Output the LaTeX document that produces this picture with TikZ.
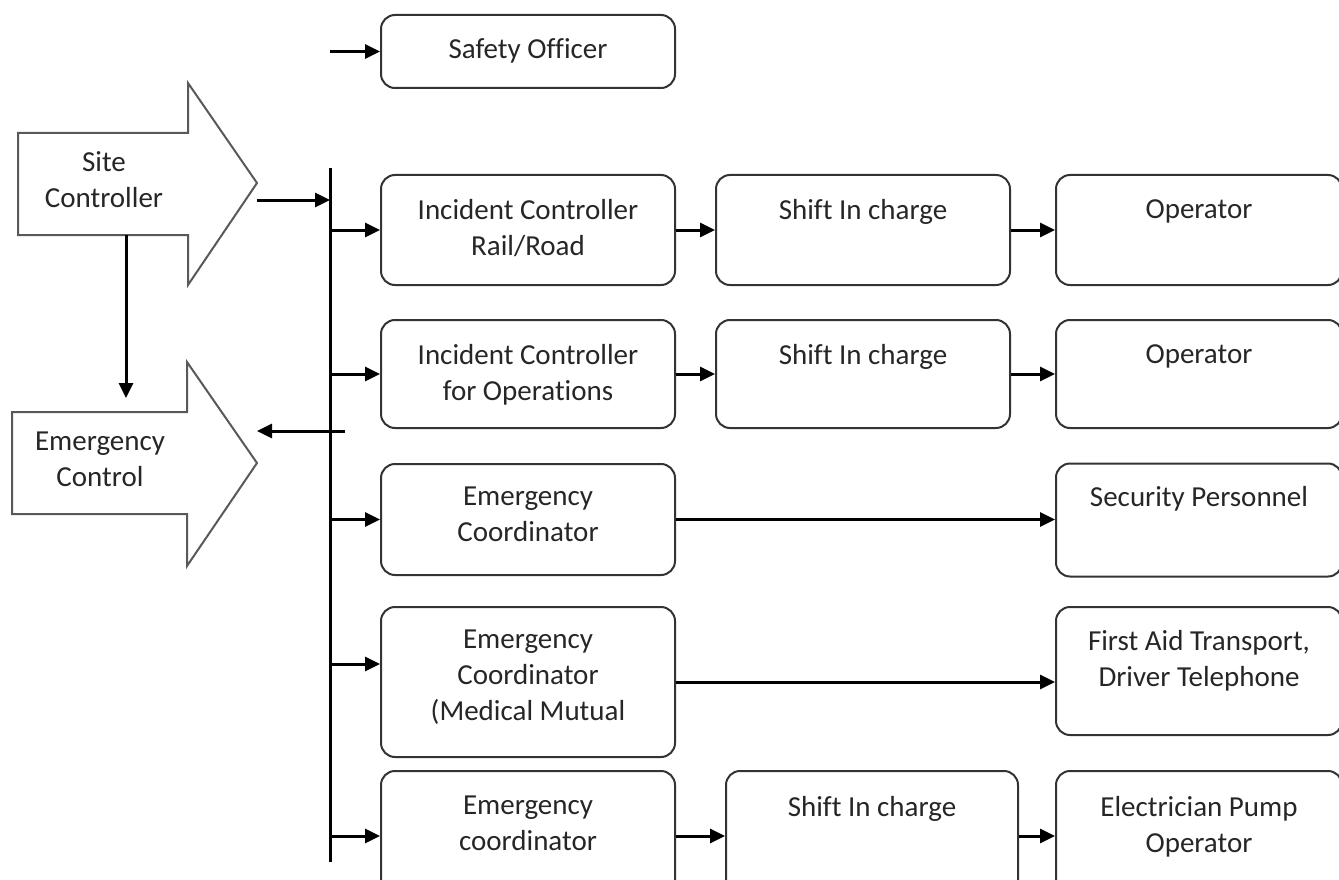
\documentclass[tikz,border=0pt]{standalone}
\usepackage{fontspec}
\setmainfont{Carlito}[Ligatures=NoCommon]
\usetikzlibrary{arrows.meta, positioning}

\begin{document}
\begin{tikzpicture}[
    x=1pt, y=-1pt,
    unit/.style={draw=black!80, line width=2pt, rounded corners=14pt, minimum width=294pt, minimum height=110pt},
    wide/.style={unit, minimum width=286pt},
    caption/.style={font=\fontsize{29}{36}\selectfont, text=black!85, align=center, inner sep=0pt},
    block/.style={draw=black!65, line width=2pt, fill=white, line join=miter},
    link/.style={line width=3pt, -{Triangle[length=15pt, width=14pt]}},
    bus/.style={line width=3pt}
]
\useasboundingbox (0,0) rectangle (1339,880);
\clip (0,0) rectangle (1339,880);

% Block arrows on the left
\draw[block] (18,133) -- (188,133) -- (188,83) -- (257,183) -- (188,285) -- (188,235) -- (18,235) -- cycle;
\node[caption] (site) at (104,180) {Site\\Controller};
\draw[block] (12,412) -- (187,412) -- (187,362) -- (257,463) -- (187,566) -- (187,514) -- (12,514) -- cycle;
\node[caption] (emerg) at (100,459) {Emergency\\Control};

\coordinate (sitetip) at (257,183);
\coordinate (sitebase) at (126,235);
\coordinate (emergtip) at (257,463);
\coordinate (emergtop) at (126,398);

% Vertical bus
\coordinate (bustop) at (330,168);
\coordinate (busend) at (330,862);
\coordinate (busret) at (345,431);

% Boxes
\node[unit, minimum height=73pt] (safety) at (528,51.5) {};
\node[unit] (icrail) at (528,230) {};
\node[unit] (shiftA) at (863,230) {};
\node[wide] (opA) at (1199,230) {};
\node[unit, minimum height=108pt] (icops) at (528,374) {};
\node[unit, minimum height=108pt] (shiftB) at (863,374) {};
\node[wide, minimum height=108pt] (opB) at (1199,374) {};
\node[unit, minimum height=111pt] (coord) at (528,519.5) {};
\node[wide, minimum height=113pt] (security) at (1199,520) {};
\node[unit, minimum height=150pt] (medical) at (528,682) {};
\node[wide, minimum height=128pt] (firstaid) at (1199,671) {};
\node[unit, minimum height=130pt] (elcoord) at (528,836) {};
\node[unit, minimum width=292pt, minimum height=130pt] (shiftC) at (872,836) {};
\node[wide, minimum height=130pt] (pumpop) at (1199,836) {};

% Box texts
\node[caption, below=24pt of safety.north] (safetyt) {Safety Officer};
\node[caption, below=25pt of icrail.north] (icrailt) {Incident Controller\\Rail/Road};
\node[caption, below=25pt of shiftA.north] (shiftAt) {Shift In charge};
\node[caption, below=25pt of opA.north] (opAt) {Operator};
\node[caption, below=25pt of icops.north] (icopst) {Incident Controller\\for Operations};
\node[caption, below=25pt of shiftB.north] (shiftBt) {Shift In charge};
\node[caption, below=25pt of opB.north] (opBt) {Operator};
\node[caption, below=24pt of coord.north] (coordt) {Emergency\\Coordinator};
\node[caption, below=24pt of security.north] (securityt) {Security Personnel};
\node[caption, below=24pt of medical.north] (medicalt) {Emergency\\Coordinator\\(Medical Mutual};
\node[caption, below=24pt of firstaid.north] (firstaidt) {First Aid Transport,\\Driver Telephone};
\node[caption, below=26pt of elcoord.north] (elcoordt) {Emergency\\coordinator};
\node[caption, below=26pt of shiftC.north] (shiftCt) {Shift In charge};
\node[caption, below=26pt of pumpop.north] (pumpopt) {Electrician Pump\\Operator};

% Connectors
\draw[link] (sitebase) -- (emergtop);
\draw[bus] (bustop) -- (busend);
\draw[link] ([yshift=-17pt]sitetip) -- ([yshift=-17pt]sitetip -| bustop);
\draw[link] (busret) -- (busret -| emergtip);
\draw[link] (safety.west -| bustop) -- (safety.west);

\foreach \n in {icrail, icops, coord, elcoord}
    \draw[link] (bustop |- \n.west) -- (\n.west);
\draw[link] (bustop |- 0,664) -- (medical.west |- 0,664);

\draw[link] (icrail) -- (shiftA);
\draw[link] (shiftA) -- (opA);
\draw[link] (icops) -- (shiftB);
\draw[link] (shiftB) -- (opB);
\draw[link] (coord.east) -- (coord.east -| security.west);
\draw[link] (medical.east) -- (medical.east -| firstaid.west);
\draw[link] (elcoord) -- (shiftC);
\draw[link] (shiftC) -- (pumpop);

\end{tikzpicture}
\end{document}
